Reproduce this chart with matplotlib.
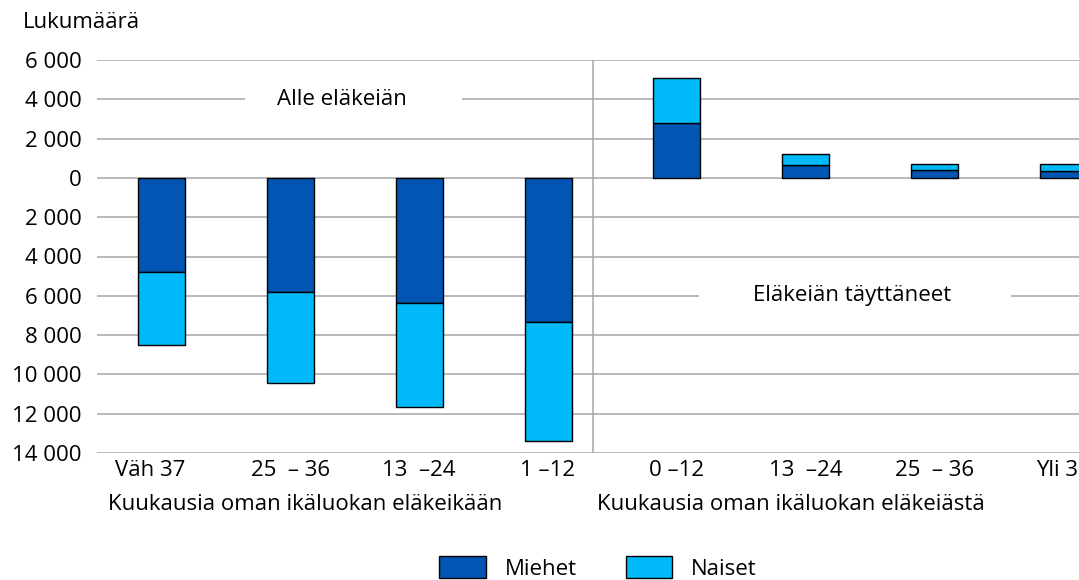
import matplotlib
matplotlib.use("Agg")
import matplotlib.pyplot as plt
from matplotlib.patches import Patch, Rectangle
from matplotlib.ticker import FuncFormatter, FixedLocator

plt.rcParams['font.family'] = ['Open Sans', 'DejaVu Sans']
FS = 16

categories = ["Väh 37    ", "25  – 36", "13  –24", "1 –12", "0 –12", "13  –24", "25  – 36", "Yli 36"]
miehet = [-4800, -5800, -6350, -7330, 2780, 660, 400, 360]
naiset = [-3700, -4650, -5300, -6070, 2290, 580, 300, 350]
yticks = [6000, 4000, 2000, 0, -2000, -4000, -6000, -8000, -10000, -12000, -14000]

c_m = "#0355B3"
c_n = "#00B9F8"
grid_c = "#A6A6A6"

fig = plt.figure(figsize=(10.79, 5.80), dpi=100)
ax = fig.add_axes([97/1079, 1-453/580, 1-97/1079, (453-60)/580])

x = list(range(len(categories)))
w = 0.364
ax.bar(x, miehet, width=w, color=c_m, edgecolor="black", linewidth=1.0, zorder=3)
ax.bar(x, naiset, width=w, bottom=miehet, color=c_n, edgecolor="black", linewidth=1.0, zorder=3)

ax.set_ylim(-14000, 6000)
ax.set_xlim(-0.5, 7.12)
ax.yaxis.set_major_locator(FixedLocator(yticks))
ax.yaxis.set_major_formatter(FuncFormatter(lambda v, p: f"{abs(v):,.0f}".replace(",", " ")))
for yv in yticks:
    ax.axhline(yv, color=grid_c, linewidth=1.1, zorder=1)
ax.axvline(3.35, color=grid_c, linewidth=1.1, zorder=1)

for s in ax.spines.values():
    s.set_visible(False)
ax.tick_params(axis="y", length=0, labelsize=FS, pad=11)
ax.tick_params(axis="x", length=0, labelsize=FS, pad=5)
ax.set_xticks(x)
ax.set_xticklabels(categories)

# white gaps in gridlines behind the annotations
ax.add_patch(Rectangle((0.65, 3500), 2.33 - 0.65, 1000, facecolor="white", edgecolor="none", zorder=2))
ax.add_patch(Rectangle((4.17, -6500), 6.59 - 4.17, 1000, facecolor="white", edgecolor="none", zorder=2))
ax.text(1.40, 4000, "Alle eläkeiän", ha="center", va="center", fontsize=FS, zorder=2.5)
ax.text(5.36, -6000, "Eläkeiän täyttäneet", ha="center", va="center", fontsize=FS, zorder=2.5)

fig.text(23/1079, 1-22/580, "Lukumäärä", ha="left", va="center", fontsize=FS)
fig.text(305/1079, 1-504/580, "Kuukausia oman ikäluokan eläkeikään", ha="center", va="center", fontsize=FS)
fig.text(791/1079, 1-504/580, "Kuukausia oman ikäluokan eläkeiästä", ha="center", va="center", fontsize=FS)

handles = [Patch(facecolor=c_m, edgecolor="black", label="Miehet"),
           Patch(facecolor=c_n, edgecolor="black", label="Naiset")]
fig.legend(handles=handles, loc="center", bbox_to_anchor=(598/1079, 1-568/580), ncol=2,
           frameon=False, fontsize=FS, handlelength=2.1, handleheight=1.15, columnspacing=2.2,
           handletextpad=0.85)

fig.savefig("out.png", dpi=100)
